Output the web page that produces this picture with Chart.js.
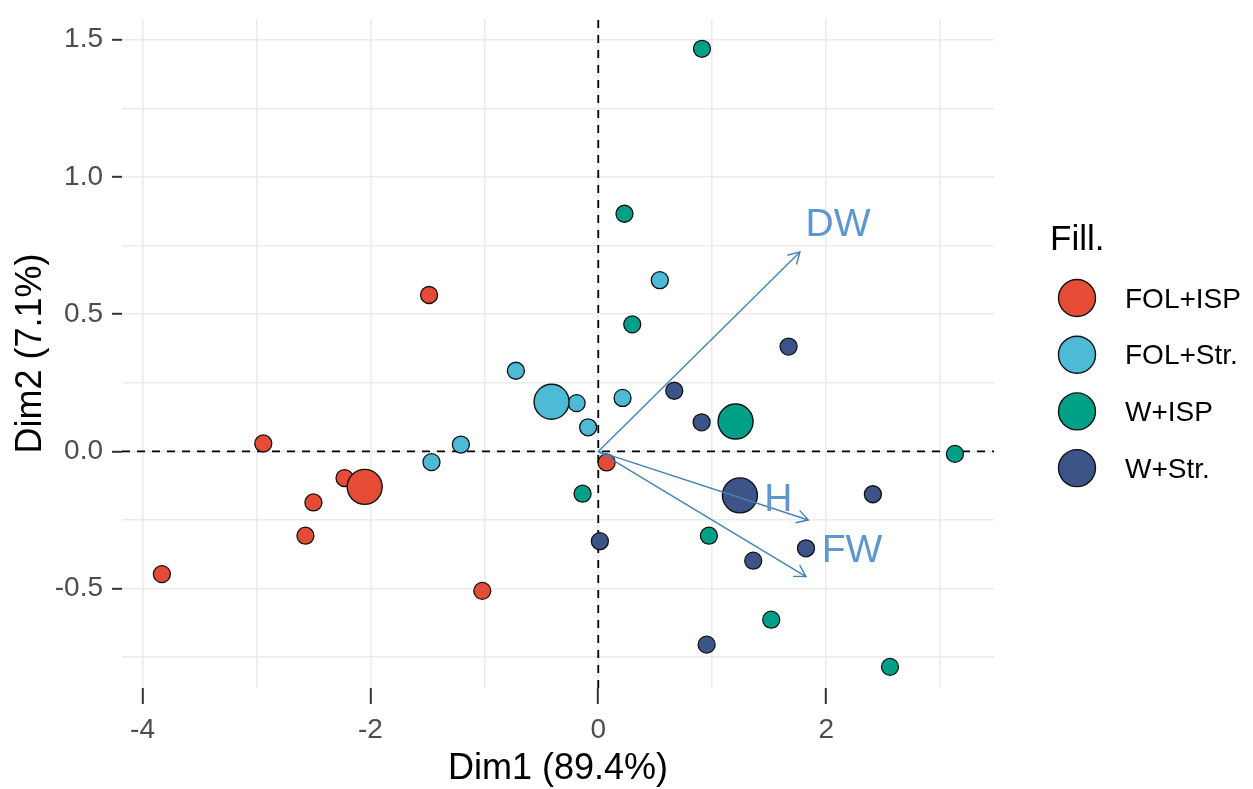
<!DOCTYPE html>
<html lang="en">
<head>
<meta charset="UTF-8">
<title>PCA biplot</title>
<script src="https://cdn.jsdelivr.net/npm/chart.js@4.4.1/dist/chart.umd.min.js"></script>
<style>
  body { margin: 0; background: #fff; }
</style>
</head>
<body>
<canvas id="pca" width="1253" height="789"></canvas>
<script>
// groups and colours
const groups = ['FOL+ISP', 'FOL+Str.', 'W+ISP', 'W+Str.'];
const groupColors = ['#E64B35', '#4DBBD5', '#00A087', '#3C5488'];

// individuals
const folIspDim1 = [-2.94, -1.485, -2.227, -2.50, -2.57, -3.83, -1.018, 0.073];
const folIspDim2 = [0.029, 0.570, -0.097, -0.186, -0.307, -0.447, -0.508, -0.040];
const folStrDim1 = [-0.723, -0.19, -0.089, 0.213, -1.206, -1.464, 0.54];
const folStrDim2 = [0.294, 0.176, 0.088, 0.195, 0.025, -0.039, 0.624];
const wIspDim1 = [0.91, 0.23, 0.298, -0.138, 0.971, 1.518, 2.56, 3.13];
const wIspDim2 = [1.467, 0.866, 0.463, -0.154, -0.307, -0.613, -0.785, -0.009];
const wStrDim1 = [1.67, 0.667, 0.907, 2.41, 1.823, 1.36, 0.014, 0.951];
const wStrDim2 = [0.382, 0.221, 0.106, -0.156, -0.353, -0.398, -0.327, -0.704];

// group means (big points)
const centroidDim1 = [-2.05, -0.41, 1.205, 1.243];
const centroidDim2 = [-0.129, 0.181, 0.109, -0.160];

// variables (arrows)
const varNames = ['DW', 'H', 'FW'];
const varDim1 = [1.77, 1.843, 1.823];
const varDim2 = [0.727, -0.25, -0.456];

// axes
const xMin = -4.18, xMax = 3.473;
const yMin = -0.862, yMax = 1.576;
const xTicks = [-4, -3, -2, -1, 0, 1, 2, 3];
const yTicks = [-0.75, -0.5, -0.25, 0, 0.25, 0.5, 0.75, 1, 1.25, 1.5];

const FONT = "'Liberation Sans', Arial, sans-serif";
const arrowColor = '#4682B4';
const arrowLabelColor = '#5E97CF';
const labelOffsets = [[38, -27], [-30, -20], [46, -25]];

const toPts = (xs, ys) => xs.map((v, i) => ({ x: v, y: ys[i] }));
const indiv = [
  toPts(folIspDim1, folIspDim2),
  toPts(folStrDim1, folStrDim2),
  toPts(wIspDim1, wIspDim2),
  toPts(wStrDim1, wStrDim2)
];

const datasets = [];
// arrows on top
varNames.forEach((n, i) => {
  datasets.push({
    type: 'line', label: n, order: 0,
    data: [{ x: 0, y: 0 }, { x: varDim1[i], y: varDim2[i] }],
    borderColor: arrowColor, borderWidth: 1.4, pointRadius: 0, fill: false
  });
});
// group means
groups.forEach((g, i) => {
  datasets.push({
    label: g + ' mean', order: 1,
    data: [{ x: centroidDim1[i], y: centroidDim2[i] }],
    backgroundColor: groupColors[i], borderColor: '#111', borderWidth: 1.4,
    pointRadius: 17.5
  });
});
// individuals (later groups on top)
groups.forEach((g, i) => {
  datasets.push({
    label: g, order: 5 - i,
    data: indiv[i],
    backgroundColor: groupColors[i], borderColor: '#111', borderWidth: 1.3,
    pointRadius: 8.5
  });
});
// dashed zero lines
datasets.push({
  type: 'line', label: 'h0', order: 10,
  data: [{ x: xMin, y: 0 }, { x: xMax, y: 0 }],
  borderColor: '#000', borderWidth: 1.8, borderDash: [8, 7], pointRadius: 0
});
datasets.push({
  type: 'line', label: 'v0', order: 10,
  data: [{ x: 0, y: yMin }, { x: 0, y: yMax }],
  borderColor: '#000', borderWidth: 1.8, borderDash: [8, 7], pointRadius: 0
});

const biplotExtras = {
  id: 'biplotExtras',
  afterDatasetsDraw(chart) {
    const { ctx, scales: { x, y } } = chart;
    const x0 = x.getPixelForValue(0), y0 = y.getPixelForValue(0);
    ctx.save();
    varNames.forEach((name, i) => {
      const px = x.getPixelForValue(varDim1[i]);
      const py = y.getPixelForValue(varDim2[i]);
      const ang = Math.atan2(py - y0, px - x0);
      const len = 13;
      ctx.strokeStyle = arrowColor;
      ctx.lineWidth = 1.4;
      ctx.beginPath();
      ctx.moveTo(px - len * Math.cos(ang - Math.PI / 6), py - len * Math.sin(ang - Math.PI / 6));
      ctx.lineTo(px, py);
      ctx.lineTo(px - len * Math.cos(ang + Math.PI / 6), py - len * Math.sin(ang + Math.PI / 6));
      ctx.stroke();
      ctx.fillStyle = arrowLabelColor;
      ctx.font = '39px ' + FONT;
      ctx.textAlign = 'center';
      ctx.textBaseline = 'middle';
      ctx.fillText(name, px + labelOffsets[i][0], py + labelOffsets[i][1]);
    });
    ctx.restore();
  },
  afterDraw(chart) {
    const ctx = chart.ctx;
    ctx.save();
    ctx.fillStyle = '#000';
    ctx.font = '35px ' + FONT;
    ctx.textAlign = 'left';
    ctx.textBaseline = 'alphabetic';
    ctx.fillText('Fill.', 1050, 250);
    groups.forEach((g, i) => {
      const cy = 298 + i * 56.7;
      ctx.beginPath();
      ctx.arc(1077, cy, 18.5, 0, Math.PI * 2);
      ctx.fillStyle = groupColors[i];
      ctx.fill();
      ctx.lineWidth = 1.4;
      ctx.strokeStyle = '#111';
      ctx.stroke();
      ctx.fillStyle = '#000';
      ctx.font = '28px ' + FONT;
      ctx.textBaseline = 'middle';
      ctx.fillText(g, 1125, cy + 2);
    });
    ctx.restore();
  }
};

const isMajorX = v => Math.abs(v % 2) < 1e-9;
const isMajorY = v => Math.abs(v * 2 - Math.round(v * 2)) < 1e-9;

new Chart(document.getElementById('pca').getContext('2d'), {
  type: 'scatter',
  data: { datasets },
  options: {
    responsive: false,
    animation: false,
    layout: { padding: { top: 12, right: 259, left: 0, bottom: 0 } },
    plugins: { legend: { display: false }, tooltip: { enabled: false } },
    scales: {
      x: {
        type: 'linear', min: xMin, max: xMax,
        afterBuildTicks: s => { s.ticks = xTicks.map(v => ({ value: v })); },
        afterFit: s => { s.height = 101; s.paddingLeft = 0; s.paddingRight = 0; },
        grid: {
          color: '#EBEBEB', lineWidth: 1.6, tickLength: 16,
          tickColor: c => isMajorX(c.tick.value) ? '#333' : 'rgba(0,0,0,0)', tickWidth: 2
        },
        border: { display: false },
        ticks: {
          autoSkip: false, maxRotation: 0, padding: 9, color: '#4D4D4D',
          font: { family: FONT, size: 28 },
          callback: v => isMajorX(v) ? String(v) : ''
        },
        title: {
          display: true, text: 'Dim1 (89.4%)', color: '#000',
          font: { family: FONT, size: 36, lineHeight: 1 },
          padding: { top: 0, bottom: 2 }
        }
      },
      y: {
        type: 'linear', min: yMin, max: yMax,
        afterBuildTicks: s => { s.ticks = yTicks.map(v => ({ value: v })); },
        afterFit: s => { s.width = 122; s.paddingTop = 0; s.paddingBottom = 0; },
        grid: {
          color: '#EBEBEB', lineWidth: 1.6, tickLength: 10,
          tickColor: c => isMajorY(c.tick.value) ? '#333' : 'rgba(0,0,0,0)', tickWidth: 2
        },
        border: { display: false },
        ticks: {
          autoSkip: false, padding: 9, color: '#4D4D4D',
          font: { family: FONT, size: 28 },
          callback: v => isMajorY(v) ? v.toFixed(1) : ''
        },
        title: {
          display: true, text: 'Dim2 (7.1%)', color: '#000',
          font: { family: FONT, size: 36, lineHeight: 1 },
          padding: { top: 13, bottom: 0 }
        }
      }
    }
  },
  plugins: [biplotExtras]
});
</script>
</body>
</html>
